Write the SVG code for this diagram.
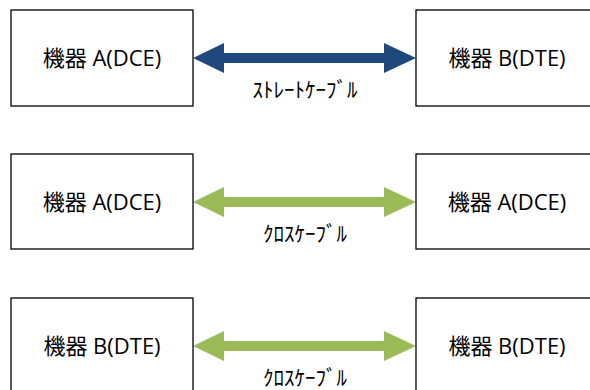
<svg xmlns="http://www.w3.org/2000/svg" width="590" height="390" viewBox="0 0 590 390">
<style>
.box{fill:#fff;stroke:#000;stroke-width:1.3}
.t{font-family:"Open Sans","Noto Sans CJK JP",sans-serif;font-size:22px;fill:#000;text-anchor:middle;dominant-baseline:central}
.lbl{font-family:"Noto Sans CJK JP",sans-serif;font-size:21px;fill:#000;text-anchor:middle}
.navy{fill:#1F497D}
.green{fill:#9BBB59}
</style>
<defs>
<path id="arr" d="M193,0 L224,-15 L224,-5 L384,-5 L384,-15 L416,0 L384,15 L384,5 L224,5 L224,15 Z"/>
</defs>
<rect width="590" height="390" fill="#fff"/>
<g id="connectors">
<use href="#arr" class="navy" transform="translate(0,58)"/>
<use href="#arr" class="green" transform="translate(0,202)"/>
<use href="#arr" class="green" transform="translate(0,346)"/>
<text class="lbl" x="305" y="97">ｽﾄﾚｰﾄｹｰﾌﾞﾙ</text>
<text class="lbl" x="305" y="241">ｸﾛｽｹｰﾌﾞﾙ</text>
<text class="lbl" x="305" y="385">ｸﾛｽｹｰﾌﾞﾙ</text>
</g>
<g id="n1"><rect class="box" x="11" y="10" width="182" height="96"/><text class="t" x="102" y="57">機器 A(DCE)</text></g>
<g id="n2"><rect class="box" x="416" y="10" width="184" height="96"/><text class="t" x="507" y="57">機器 B(DTE)</text></g>
<g id="n3"><rect class="box" x="11" y="154" width="182" height="95"/><text class="t" x="102" y="201">機器 A(DCE)</text></g>
<g id="n4"><rect class="box" x="416" y="154" width="184" height="95"/><text class="t" x="507" y="201">機器 A(DCE)</text></g>
<g id="n5"><rect class="box" x="11" y="298" width="182" height="100"/><text class="t" x="102" y="345">機器 B(DTE)</text></g>
<g id="n6"><rect class="box" x="416" y="298" width="184" height="100"/><text class="t" x="507" y="345">機器 B(DTE)</text></g>
</svg>
